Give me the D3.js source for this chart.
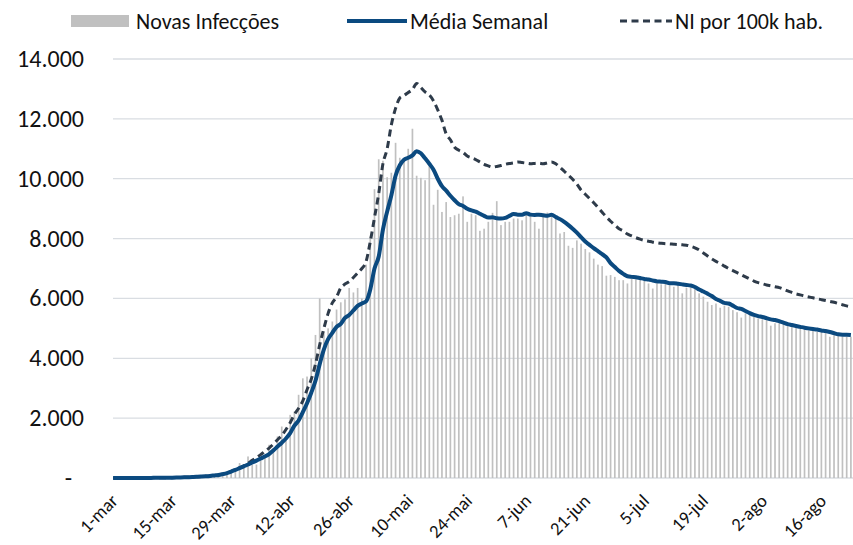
<!DOCTYPE html>
<html>
<head>
<meta charset="utf-8">
<script src="https://cdnjs.cloudflare.com/ajax/libs/d3/7.8.5/d3.min.js"></script>
<style>
  html, body { margin: 0; padding: 0; background: #fff; }
  svg { display: block; font-family: Carlito, Lato, sans-serif; }
</style>
</head>
<body>
<svg id="chart" width="853" height="545"></svg>
<script>
// daily values, 1-mar .. 23-ago
const novasInfeccoes = [
  0, 0, 0, 0, 2, 1, 3, 5, 4, 8, 10, 12, 15, 18,
  20, 25, 30, 40, 45, 50, 60, 70, 80, 95, 110, 130, 150, 170,
  250, 330, 500, 380, 720, 440, 450, 670, 780, 1110, 1000, 1390, 1720, 1250,
  2110, 2220, 2780, 3330, 3390, 4000, 4780, 6000, 4900, 5000, 5230, 5630, 5870, 5970,
  6350, 6200, 6350, 6000, 7130, 8070, 9650, 10650, 10600, 10050, 10200, 11200, 10700, 10600,
  11000, 11670, 10100, 10030, 9950, 10450, 9130, 9630, 8890, 9220, 8720, 8780, 8830, 9410,
  8560, 8830, 8780, 8260, 8330, 8560, 8860, 9250, 8450, 8560, 8560, 8670, 8670, 8610,
  8830, 8850, 8560, 8330, 8780, 8870, 8770, 8670, 8170, 8220, 7760, 7690, 7940, 7830,
  7650, 7540, 7330, 7130, 7080, 6760, 6780, 6720, 6610, 6610, 6500, 6670, 6640, 6620,
  6580, 6500, 6330, 6550, 6470, 6500, 6440, 6390, 6440, 6170, 6360, 6360, 6330, 6170,
  6060, 5890, 5780, 5830, 5690, 5760, 5720, 5610, 5540, 5360, 5500, 5450, 5390, 5330,
  5300, 5280, 5090, 5170, 5230, 5170, 5110, 5140, 5110, 5060, 5080, 5000, 4940, 4890,
  4970, 4940, 4720, 4890, 4780, 4720, 4720, 4720
];

const mediaSemanal = [
  0, 0, 0, 0, 1, 1, 2, 3, 3, 4, 5, 6, 8, 10,
  12, 15, 18, 22, 27, 33, 40, 48, 58, 70, 85, 100, 130, 165,
  215, 270, 330, 390, 450, 520, 580, 650, 720, 800, 920, 1050, 1180, 1320,
  1500, 1750, 1920, 2200, 2500, 2850, 3250, 3800, 4300, 4640, 4850, 5050, 5150, 5350,
  5450, 5600, 5750, 5830, 5900, 6300, 7000, 7400, 8300, 8900, 9450, 10100, 10450, 10630,
  10700, 10780, 10920, 10850, 10680, 10500, 10300, 10000, 9750, 9600, 9430, 9280, 9150, 9090,
  9000, 8940, 8900, 8830, 8760, 8700, 8710, 8680, 8670, 8690, 8760, 8820, 8800, 8800,
  8850, 8800, 8790, 8800, 8780, 8760, 8800, 8720, 8650, 8560, 8450, 8330, 8200, 8050,
  7900, 7790, 7680, 7580, 7480, 7370, 7180, 7050, 6920, 6820, 6740, 6720, 6710, 6680,
  6650, 6630, 6600, 6570, 6560, 6550, 6510, 6510, 6490, 6470, 6450, 6430, 6380, 6300,
  6230, 6160, 6080, 5980, 5920, 5850, 5830, 5760, 5680, 5650, 5580, 5510, 5450, 5410,
  5380, 5340, 5300, 5280, 5240, 5190, 5140, 5110, 5080, 5050, 5020, 5000, 4980, 4960,
  4930, 4910, 4880, 4840, 4800, 4790, 4790, 4780
];

// NI por 100k hab. (secondary scale, shown in primary-axis units)
const niPor100k = [
  0, 0, 0, 0, 1, 1, 2, 3, 3, 4, 5, 6, 8, 10,
  12, 15, 18, 22, 27, 33, 40, 48, 58, 70, 85, 100, 130, 170,
  220, 280, 340, 410, 490, 590, 680, 780, 890, 1000, 1130, 1280, 1420, 1620,
  1850, 2120, 2330, 2580, 2950, 3300, 3800, 4450, 5000, 5500, 5850, 6050, 6350, 6480,
  6560, 6700, 6850, 7000, 7230, 7900, 8700, 9500, 10500, 11000, 11800, 12350, 12700, 12780,
  12880, 12980, 13180, 13050, 12900, 12800, 12600, 12300, 11950, 11500, 11300, 11050, 10950, 10880,
  10760, 10700, 10640, 10560, 10480, 10430, 10390, 10410, 10440, 10480, 10510, 10530, 10560, 10540,
  10520, 10500, 10510, 10520, 10500, 10530, 10560, 10500, 10380, 10250, 10120, 9980, 9820, 9620,
  9480, 9340, 9200, 9040, 8880, 8720, 8580, 8450, 8330, 8260, 8150, 8090, 8030, 7980,
  7940, 7910, 7880, 7860, 7840, 7830, 7820, 7810, 7800, 7790, 7780, 7740, 7690, 7620,
  7520, 7420, 7320, 7240, 7170, 7080, 7000, 6930, 6860, 6790, 6720, 6650, 6580, 6530,
  6490, 6450, 6420, 6390, 6360, 6310, 6250, 6200, 6150, 6120, 6080, 6050, 6020, 5990,
  5960, 5930, 5900, 5870, 5830, 5790, 5750, 5720
];

const xTickLabels = ['1-mar', '15-mar', '29-mar', '12-abr', '26-abr', '10-mai', '24-mai',
  '7-jun', '21-jun', '5-jul', '19-jul', '2-ago', '16-ago'];
const xTickEvery = 14;

const yTickValues = [0, 2000, 4000, 6000, 8000, 10000, 12000, 14000];
const yTickLabels = ['-', '2.000', '4.000', '6.000', '8.000', '10.000', '12.000', '14.000'];

const legendLabels = ['Novas Infecções', 'Média Semanal', 'NI por 100k hab.'];

const BAR_COLOR = '#c0c0c0';
const LINE_COLOR = '#0b4a80';
const DASH_COLOR = '#2e3b4a';
const GRID_COLOR = '#d9dde2';

const svg = d3.select('#chart');

const plot = { left: 111, right: 853, top: 59, bottom: 478 };

const x = d3.scaleBand()
  .domain(d3.range(novasInfeccoes.length))
  .range([plot.left, plot.right])
  .paddingInner(0.6)
  .paddingOuter(0.3);

const xc = i => x(i) + x.bandwidth() / 2;

const y = d3.scaleLinear()
  .domain([0, 14000])
  .range([plot.bottom, plot.top]);

// gridlines
svg.append('g')
  .selectAll('line')
  .data(yTickValues)
  .join('line')
  .attr('x1', plot.left + 2).attr('x2', plot.right)
  .attr('y1', d => y(d)).attr('y2', d => y(d))
  .attr('stroke', GRID_COLOR)
  .attr('stroke-width', 1.3);

// y labels
svg.append('g')
  .selectAll('text')
  .data(yTickValues)
  .join('text')
  .attr('x', (d, i) => i === 0 ? 72 : 84)
  .attr('y', d => y(d) + 8)
  .attr('text-anchor', 'end')
  .attr('font-size', '24px')
  .attr('fill', '#111')
  .text((d, i) => yTickLabels[i]);

// bars
svg.append('g')
  .selectAll('rect')
  .data(novasInfeccoes)
  .join('rect')
  .attr('x', (d, i) => x(i))
  .attr('width', x.bandwidth())
  .attr('y', d => y(d))
  .attr('height', d => y(0) - y(d))
  .attr('fill', BAR_COLOR);

const line = d3.line()
  .x((d, i) => xc(i))
  .y(d => y(d))
  .curve(d3.curveMonotoneX);

// NI por 100k (dashed)
svg.append('path')
  .datum(niPor100k)
  .attr('fill', 'none')
  .attr('stroke', DASH_COLOR)
  .attr('stroke-width', 3)
  .attr('stroke-dasharray', '7,4.5')
  .attr('d', line);

// Média semanal (solid)
svg.append('path')
  .datum(mediaSemanal)
  .attr('fill', 'none')
  .attr('stroke', LINE_COLOR)
  .attr('stroke-width', 4)
  .attr('stroke-linejoin', 'round')
  .attr('d', line);

// x labels
svg.append('g')
  .selectAll('text')
  .data(xTickLabels)
  .join('text')
  .attr('text-anchor', 'end')
  .attr('font-size', '18.5px')
  .attr('fill', '#111')
  .attr('transform', (d, i) => `translate(${xc(i * xTickEvery) + 6},${502}) rotate(-45)`)
  .text(d => d);

// legend
const legend = svg.append('g').attr('font-size', '22px').attr('fill', '#111');

legend.append('rect')
  .attr('x', 71).attr('y', 15).attr('width', 58).attr('height', 12)
  .attr('fill', BAR_COLOR);
legend.append('text').attr('x', 136).attr('y', 29).text(legendLabels[0]);

legend.append('line')
  .attr('x1', 347).attr('x2', 407).attr('y1', 21).attr('y2', 21)
  .attr('stroke', LINE_COLOR).attr('stroke-width', 4);
legend.append('text').attr('x', 410).attr('y', 29).text(legendLabels[1]);

legend.append('line')
  .attr('x1', 620).attr('x2', 672).attr('y1', 21).attr('y2', 21)
  .attr('stroke', DASH_COLOR).attr('stroke-width', 3).attr('stroke-dasharray', '7,4.5');
legend.append('text').attr('x', 675).attr('y', 29).text(legendLabels[2]);
</script>
</body>
</html>
